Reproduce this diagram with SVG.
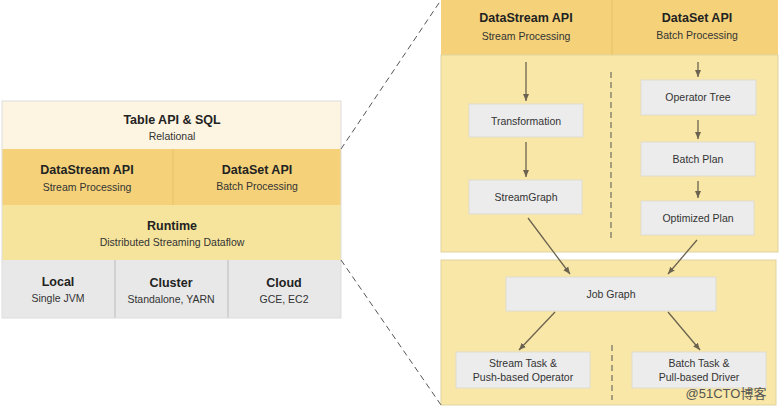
<svg xmlns="http://www.w3.org/2000/svg" width="783" height="409" viewBox="0 0 783 409">
<defs>
<marker id="ah" markerWidth="8" markerHeight="8" refX="7" refY="4" orient="auto" markerUnits="userSpaceOnUse"><path d="M0,1 L7,4 L0,7 Z" fill="#6b6350"/></marker>
<style>
text{font-family:"Liberation Sans",Arial,sans-serif;text-anchor:middle;fill:#222}
.t{font-size:12.5px;font-weight:bold}
.s{font-size:10.5px;fill:#333}
.b{fill:#ececec;stroke:#e0dcd0}
.c{stroke:#6b6350;stroke-width:1.3;fill:none;marker-end:url(#ah)}
.d{stroke:#555;stroke-width:1;stroke-dasharray:6,4;fill:none}
</style>
</defs>
<rect width="783" height="409" fill="#fff"/>
<g id="table"><rect x="2" y="101" width="339" height="48" fill="#fdf5e2"/><text class="t" x="172" y="124">Table API &amp; SQL</text><text class="s" x="172" y="140">Relational</text></g>
<g id="datastream-left"><rect x="2" y="149" width="171" height="56" fill="#f5d27a"/><text class="t" x="87" y="174">DataStream API</text><text class="s" x="87" y="191">Stream Processing</text></g>
<g id="dataset-left"><rect x="173" y="149" width="168" height="56" fill="#f5d27a"/><text class="t" x="257" y="174">DataSet API</text><text class="s" x="257" y="190">Batch Processing</text></g>
<line x1="173" y1="149" x2="173" y2="205" stroke="#e6c266"/>
<g id="runtime"><rect x="2" y="205" width="339" height="55" fill="#f6e49c"/><text class="t" x="172" y="230">Runtime</text><text class="s" x="172" y="246">Distributed Streaming Dataflow</text></g>
<g id="local"><rect x="2" y="260" width="113" height="58" fill="#e8e8e8"/><text class="t" x="58" y="286">Local</text><text class="s" x="58" y="302">Single JVM</text></g>
<g id="cluster"><rect x="115" y="260" width="113" height="58" fill="#e8e8e8"/><text class="t" x="171" y="287">Cluster</text><text class="s" x="171" y="303">Standalone, YARN</text></g>
<g id="cloud"><rect x="228" y="260" width="113" height="58" fill="#e8e8e8"/><text class="t" x="284" y="287">Cloud</text><text class="s" x="284" y="303">GCE, EC2</text></g>
<path d="M115,260V318M228,260V318" stroke="#bbb"/>
<rect x="2" y="101" width="339" height="217" fill="none" stroke="#ddd"/>

<g id="panel-top"><rect x="441" y="0" width="337" height="55" fill="#f5d27a"/><rect x="441" y="55" width="337" height="197" fill="#f8e7a6" stroke="#e0d4a0"/><line x1="612" y1="0" x2="612" y2="55" stroke="#e6c266"/>
<text class="t" x="526" y="22">DataStream API</text><text class="s" x="526" y="40">Stream Processing</text>
<text class="t" x="697" y="22">DataSet API</text><text class="s" x="697" y="39">Batch Processing</text></g>
<g id="panel-bottom"><rect x="441" y="260" width="335" height="145" fill="#f8e7a6" stroke="#e0d4a0"/></g>
<g id="transformation"><rect class="b" x="469" y="104" width="114" height="33"/><text class="s" x="526" y="125">Transformation</text></g>
<g id="streamgraph"><rect class="b" x="469" y="180" width="113" height="34"/><text class="s" x="526" y="201">StreamGraph</text></g>
<g id="operator-tree"><rect class="b" x="641" y="80" width="115" height="35"/><text class="s" x="698" y="101">Operator Tree</text></g>
<g id="batch-plan"><rect class="b" x="641" y="142" width="114" height="34"/><text class="s" x="698" y="163">Batch Plan</text></g>
<g id="optimized-plan"><rect class="b" x="641" y="201" width="113" height="34"/><text class="s" x="698" y="222">Optimized Plan</text></g>
<g id="job-graph"><rect class="b" x="506" y="277" width="210" height="34"/><text class="s" x="611" y="298">Job Graph</text></g>
<g id="stream-task"><rect class="b" x="456" y="352" width="134" height="36"/><text class="s" x="523" y="367">Stream Task &amp;</text><text class="s" x="523" y="381">Push-based Operator</text></g>
<g id="batch-task"><rect class="b" x="632" y="352" width="134" height="36"/><text class="s" x="699" y="367">Batch Task &amp;</text><text class="s" x="699" y="381">Pull-based Driver</text></g>
<text x="726" y="398" style="font-size:13px;fill:#555;font-family:'Liberation Sans','Noto Sans CJK SC',sans-serif">@51CTO博客</text>

<g id="connectors">
<path class="d" d="M341,149L441,0M341,260L441,405M611,72V240M612,345V400"/>
<path class="c" d="M526,62V101"/>
<path class="c" d="M526,142V177"/>
<path class="c" d="M698,62V77"/>
<path class="c" d="M698,120V139"/>
<path class="c" d="M698,181V198"/>
<path class="c" d="M528,218L570,274"/>
<path class="c" d="M697,240L668,274"/>
<path class="c" d="M555,312L519,350"/>
<path class="c" d="M668,312L700,350"/>
</g>
</svg>
